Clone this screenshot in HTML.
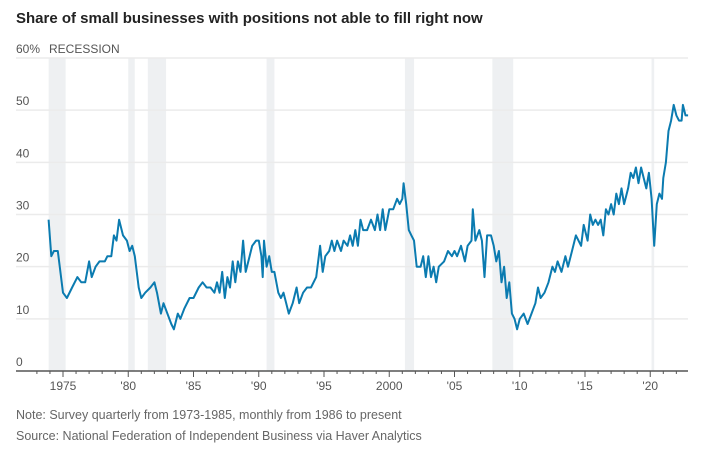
<!DOCTYPE html>
<html><head><meta charset="utf-8"><style>
body{margin:0;background:#fff;width:708px;height:450px;overflow:hidden;font-family:"Liberation Sans",sans-serif}
svg{display:block}
</style></head><body>
<svg width="708" height="450">
<text x="16" y="23" font-size="15" font-weight="bold" fill="#222">Share of small businesses with positions not able to fill right now</text>
<g id="rec"></g><g id="grid"></g><g id="xaxis"></g>
<path id="line" fill="none" stroke="#0b7bb0" stroke-width="2" stroke-linejoin="round"/>
<text x="16" y="419" font-size="12.5" fill="#666">Note: Survey quarterly from 1973-1985, monthly from 1986 to present</text>
<text x="16" y="440" font-size="12.5" fill="#666">Source: National Federation of Independent Business via Haver Analytics</text>
</svg>
<script>
const yTicks=[0,10,20,30,40,50,60];
const xTickYears=[1975,1980,1985,1990,1995,2000,2005,2010,2015,2020];
const xTickLabels=["1975","'80","'85","'90","'95","2000","'05","'10","'15","'20"];
const recStart=[1973.9,1980.0,1981.5,1990.6,2001.2,2007.9,2020.1];
const recEnd=[1975.2,1980.5,1982.9,1991.2,2001.9,2009.5,2020.3];
const years=[1973.9,1974.1,1974.3,1974.6,1975.0,1975.3,1975.7,1976.1,1976.4,1976.7,1977.0,1977.2,1977.5,1977.8,1978.2,1978.4,1978.7,1978.9,1979.1,1979.3,1979.6,1979.9,1980.1,1980.3,1980.5,1980.8,1981.0,1981.3,1981.7,1982.0,1982.2,1982.5,1982.7,1983.0,1983.3,1983.5,1983.8,1984.0,1984.3,1984.7,1985.0,1985.4,1985.7,1986.0,1986.3,1986.6,1986.8,1987.0,1987.2,1987.4,1987.6,1987.8,1988.0,1988.2,1988.4,1988.6,1988.8,1989.0,1989.3,1989.5,1989.8,1990.0,1990.2,1990.3,1990.4,1990.6,1990.8,1991.0,1991.2,1991.5,1991.7,1991.9,1992.1,1992.3,1992.6,1992.9,1993.1,1993.4,1993.7,1994.0,1994.4,1994.7,1994.9,1995.1,1995.4,1995.6,1995.8,1996.0,1996.3,1996.5,1996.8,1997.0,1997.2,1997.4,1997.6,1997.8,1998.0,1998.3,1998.6,1998.9,1999.1,1999.3,1999.5,1999.7,2000.0,2000.3,2000.6,2000.8,2001.0,2001.1,2001.3,2001.5,2001.7,2001.9,2002.1,2002.4,2002.6,2002.8,2003.0,2003.2,2003.4,2003.6,2003.8,2004.2,2004.5,2004.8,2005.0,2005.2,2005.5,2005.8,2006.0,2006.3,2006.4,2006.6,2006.9,2007.1,2007.3,2007.5,2007.8,2008.0,2008.2,2008.4,2008.6,2008.8,2009.0,2009.2,2009.4,2009.6,2009.8,2010.0,2010.3,2010.6,2010.9,2011.2,2011.4,2011.6,2011.9,2012.2,2012.5,2012.7,2012.9,2013.2,2013.5,2013.7,2014.0,2014.3,2014.5,2014.7,2014.9,2015.2,2015.4,2015.6,2015.8,2016.0,2016.2,2016.4,2016.6,2016.8,2017.0,2017.2,2017.4,2017.6,2017.8,2018.0,2018.3,2018.5,2018.7,2018.9,2019.1,2019.3,2019.5,2019.7,2019.9,2020.1,2020.3,2020.5,2020.7,2020.9,2021.0,2021.2,2021.4,2021.6,2021.8,2022.0,2022.2,2022.4,2022.5,2022.7,2022.9];
const values=[29,22,23,23,15,14,16,18,17,17,21,18,20,21,21,22,22,26,25,29,26,25,23,24,22,16,14,15,16,17,15,11,13,11,9,8,11,10,12,14,14,16,17,16,16,15,17,15,19,14,18,16,21,17,21,19,25,19,22,24,25,25,22,18,25,20,22,19,19,15,14,15,13,11,13,16,13,15,16,16,18,24,19,22,23,25,23,25,23,25,24,26,24,27,24,29,27,27,29,27,30,27,31,27,31,31,33,32,33,36,32,27,26,25,20,20,22,18,22,18,20,17,20,21,23,22,23,22,24,21,24,25,31,25,27,25,18,26,26,24,21,23,17,20,14,17,11,10,8,10,11,9,11,13,16,14,15,17,20,19,21,19,22,20,23,26,25,24,28,25,30,28,29,28,29,26,31,30,32,30,34,32,35,32,35,38,37,39,36,39,37,35,38,33,24,32,34,33,37,40,46,48,51,49,48,48,51,49,49];
const NS="http://www.w3.org/2000/svg";
const x0=16,x1=688;
function xs(y){return 63+(y-1975)*13.05;}
function ys(v){return 371-v*5.217;}
function mk(t,a){const e=document.createElementNS(NS,t);for(const k in a)e.setAttribute(k,a[k]);return e;}
const rec=document.getElementById('rec');
recStart.forEach((s,i)=>{const r=mk('rect',{x:xs(s),y:58,width:xs(recEnd[i])-xs(s),height:313,fill:'#eef0f2'});


rec.appendChild(r);});
const g=document.getElementById('grid');
yTicks.forEach(v=>{if(v>0){const l=mk('line',{x1:x0,x2:x1,y1:ys(v),y2:ys(v),stroke:'#ebebeb','stroke-width':1.5});


g.appendChild(l);}
const t=mk('text',{x:16,y:ys(v)-5,'font-size':12,fill:'#555'});t.textContent=v===60?'60%':String(v);


g.appendChild(t);});
const rl=mk('text',{x:49,y:ys(60)-5,'font-size':12,fill:'#555'});rl.textContent='RECESSION';


g.appendChild(rl);
const xa=document.getElementById('xaxis');
const ax=mk('line',{x1:x0,x2:x1,y1:371,y2:371,stroke:'#555','stroke-width':1.5});


xa.appendChild(ax);
for(let yr=1973;yr<=2022;yr++){const tk=mk('line',{x1:xs(yr),x2:xs(yr),y1:371,y2:xTickYears.includes(yr)?377:374,stroke:'#555'});


xa.appendChild(tk);}
xTickYears.forEach((yr,i)=>{const t=mk('text',{x:xs(yr),y:390,'font-size':12,fill:'#555','text-anchor':'middle'});t.textContent=xTickLabels[i];


xa.appendChild(t);});
document.getElementById('line').setAttribute('d',years.map((y,i)=>(i?'L':'M')+xs(y).toFixed(1)+','+ys(values[i]).toFixed(1)).join(''));
</script>
</body></html>
